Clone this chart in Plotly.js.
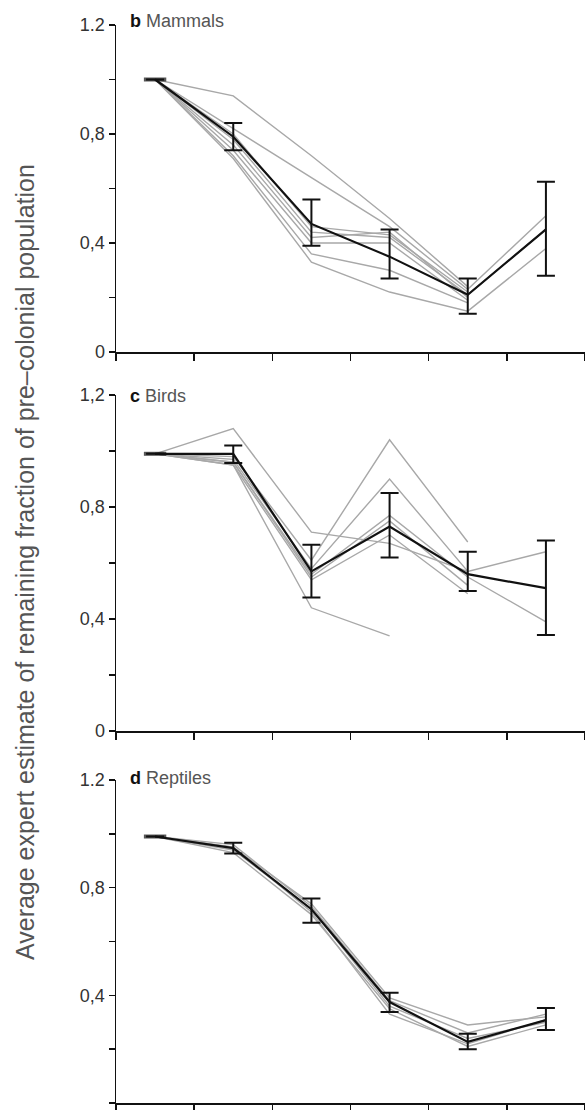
<!DOCTYPE html>
<html><head><meta charset="utf-8">
<script src="https://cdn.plot.ly/plotly-3.0.1.min.js"></script>
<style>html,body{margin:0;padding:0;background:#fff}</style>
</head><body><div id="chart" style="width:585px;height:1110px"></div>
<script>
// category centres (six periods, between seven ticks)
const categoryX = [0.5, 1.5, 2.5, 3.5, 4.5, 5.5];
const tickPositions = [0, 1, 2, 3, 4, 5, 6];
const yTickVals = [0, 0.2, 0.4, 0.6, 0.8, 1.0, 1.2];
const yTickTextB = ["0", "", "0,4", "", "0,8", "", "1.2"];
const yTickTextC = ["0", "", "0,4", "", "0,8", "", "1,2"];
const yTickTextD = ["0", "", "0,4", "", "0,8", "", "1.2"];

// b Mammals
const mammalMean = [1.0, 0.79, 0.47, 0.35, 0.21, 0.45];
const mammalErrPlus = [0, 0.05, 0.09, 0.10, 0.06, 0.175];
const mammalErrMinus = [0, 0.05, 0.08, 0.08, 0.07, 0.17];
const mammalExpert1 = [1.0, 0.94, 0.72, 0.49, 0.24, null];
const mammalExpert2 = [1.0, 0.82, 0.64, 0.46, 0.23, 0.50];
const mammalExpert3 = [1.0, 0.80, 0.46, 0.43, 0.22, null];
const mammalExpert4 = [1.0, 0.78, 0.44, 0.42, 0.21, 0.45];
const mammalExpert5 = [1.0, 0.76, 0.42, 0.44, 0.20, null];
const mammalExpert6 = [1.0, 0.74, 0.40, 0.40, 0.19, null];
const mammalExpert7 = [1.0, 0.72, 0.36, 0.30, 0.18, null];
const mammalExpert8 = [1.0, 0.71, 0.33, 0.22, 0.15, 0.38];

// c Birds
const birdMean = [0.99, 0.99, 0.57, 0.73, 0.56, 0.51];
const birdErrPlus = [0, 0.03, 0.095, 0.12, 0.08, 0.17];
const birdErrMinus = [0, 0.033, 0.093, 0.11, 0.06, 0.167];
const birdExpert1 = [0.99, 1.08, 0.71, 0.67, 0.57, 0.64];
const birdExpert2 = [0.99, 0.98, 0.61, 1.04, 0.675, null];
const birdExpert3 = [0.99, 0.97, 0.58, 0.90, 0.57, null];
const birdExpert4 = [0.99, 0.96, 0.56, 0.77, 0.55, 0.39];
const birdExpert5 = [0.99, 0.96, 0.55, 0.75, 0.52, null];
const birdExpert6 = [0.99, 0.95, 0.54, 0.70, 0.49, null];
const birdExpert7 = [0.99, 0.95, 0.44, 0.34, null, null];

// d Reptiles
const reptileMean = [0.99, 0.947, 0.72, 0.375, 0.227, 0.308];
const reptileErrPlus = [0, 0.02, 0.04, 0.035, 0.03, 0.045];
const reptileErrMinus = [0, 0.02, 0.05, 0.037, 0.027, 0.037];
const reptileExpert1 = [0.99, 0.95, 0.74, 0.39, 0.29, 0.32];
const reptileExpert2 = [0.99, 0.94, 0.72, 0.36, 0.24, 0.30];
const reptileExpert3 = [0.99, 0.95, 0.71, 0.33, 0.22, 0.31];
const reptileExpert4 = [0.99, 0.96, 0.73, 0.38, 0.26, 0.33];
const reptileExpert5 = [0.99, 0.93, 0.70, 0.35, 0.21, 0.29];

const panels = [
  {xa: 'x', ya: 'y', mean: mammalMean, ep: mammalErrPlus, em: mammalErrMinus,
   experts: [mammalExpert1, mammalExpert2, mammalExpert3, mammalExpert4, mammalExpert5, mammalExpert6, mammalExpert7, mammalExpert8]},
  {xa: 'x2', ya: 'y2', mean: birdMean, ep: birdErrPlus, em: birdErrMinus,
   experts: [birdExpert1, birdExpert2, birdExpert3, birdExpert4, birdExpert5, birdExpert6, birdExpert7]},
  {xa: 'x3', ya: 'y3', mean: reptileMean, ep: reptileErrPlus, em: reptileErrMinus,
   experts: [reptileExpert1, reptileExpert2, reptileExpert3, reptileExpert4, reptileExpert5]}
];

const traces = [];
panels.forEach(p => {
  p.experts.forEach(e => traces.push({
    x: categoryX, y: e, xaxis: p.xa, yaxis: p.ya, type: 'scatter', mode: 'lines',
    line: {color: '#a8a8a8', width: 1.4}, connectgaps: false, hoverinfo: 'skip'
  }));
  traces.push({
    x: categoryX, y: p.mean, xaxis: p.xa, yaxis: p.ya, type: 'scatter', mode: 'lines+markers',
    line: {color: '#111', width: 2.2},
    marker: {symbol: 'line-ew', size: [16, 0, 0, 0, 0, 0], line: {color: '#111', width: 4}},
    error_y: {type: 'data', symmetric: false, array: p.ep, arrayminus: p.em,
              color: '#111', thickness: 2, width: 9}
  });
});

const font = {family: 'Liberation Sans, Arial, sans-serif', size: 18, color: '#333'};
function xax(anchor) {
  return {range: [0, 6], domain: [0, 1], anchor: anchor, tickvals: tickPositions, ticks: 'outside',
    ticklen: 7, tickwidth: 1.5, tickcolor: '#111', showticklabels: false, showline: true,
    linecolor: '#111', linewidth: 1.5, showgrid: false, zeroline: false};
}
function yax(anchor, dom, txt) {
  return {range: [0, 1.2], domain: dom, anchor: anchor, tickvals: yTickVals, ticktext: txt,
    ticks: 'outside', ticklen: 6, tickwidth: 1.5, tickcolor: '#111', showline: true,
    linecolor: '#111', linewidth: 1.5, showgrid: false, zeroline: false, tickfont: font};
}

const H = 1110;
const labelFont = {family: font.family, size: 18, color: '#111'};
const layout = {
  width: 585, height: H, showlegend: false,
  paper_bgcolor: '#fff', plot_bgcolor: '#fff',
  margin: {l: 116, r: 0, t: 0, b: 0},
  font: font,
  xaxis: xax('y'), yaxis: yax('x', [1 - 352 / H, 1 - 25 / H], yTickTextB),
  xaxis2: xax('y2'), yaxis2: yax('x2', [1 - 731 / H, 1 - 395 / H], yTickTextC),
  xaxis3: xax('y3'), yaxis3: yax('x3', [1 - 1103 / H, 1 - 780 / H], yTickTextD),
  annotations: [
    {text: '<b>b</b> <span style="color:#555">Mammals</span>', xref: 'paper', yref: 'paper',
     x: 12 / 469, y: 1 - 21 / H, xanchor: 'left', yanchor: 'middle', showarrow: false, font: labelFont},
    {text: '<b>c</b> <span style="color:#555">Birds</span>', xref: 'paper', yref: 'paper',
     x: 12 / 469, y: 1 - 396 / H, xanchor: 'left', yanchor: 'middle', showarrow: false, font: labelFont},
    {text: '<b>d</b> <span style="color:#555">Reptiles</span>', xref: 'paper', yref: 'paper',
     x: 12 / 469, y: 1 - 778 / H, xanchor: 'left', yanchor: 'middle', showarrow: false, font: labelFont},
    {text: 'Average expert estimate of remaining fraction of pre\u2013colonial population',
     xref: 'paper', yref: 'paper', x: (25 - 116) / 469, y: 1 - 562 / H, textangle: -90,
     xanchor: 'center', yanchor: 'middle', showarrow: false,
     font: {family: font.family, size: 25, color: '#555'}}
  ]
};

Plotly.newPlot('chart', traces, layout, {displayModeBar: false, staticPlot: true});
</script>
</body></html>
